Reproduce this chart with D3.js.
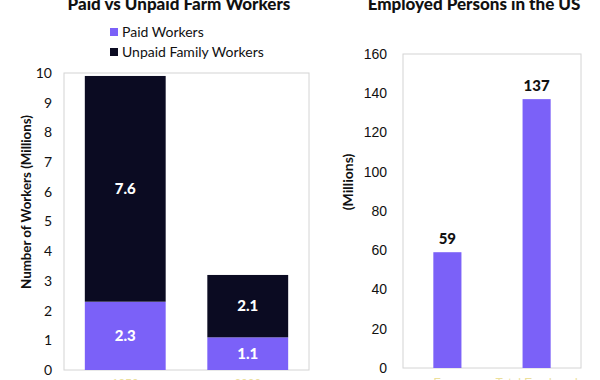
<!DOCTYPE html>
<html><head><meta charset="utf-8">
<script src="https://cdn.jsdelivr.net/npm/d3@7"></script>
<style>
html,body{margin:0;padding:0;background:#fff;}
svg{display:block;font-family:Lato,"Noto Sans",sans-serif;}
</style></head>
<body>
<svg id="c" width="600" height="380"></svg>
<script>
// ---- data ----
const farmCategories = ["1950", "2020"];
const paidWorkers = [2.3, 1.1];
const unpaidFamilyWorkers = [7.6, 2.1];
const farmTicks = [0,1,2,3,4,5,6,7,8,9,10];
const empCategories = ["Farm", "Total Employed"];
const employedValues = [59, 137];
const empTicks = [0,20,40,60,80,100,120,140,160];
const seriesNames = ["Paid Workers", "Unpaid Family Workers"];

const PURPLE = "#7b61f8", NAVY = "#0b0b22", FRAME = "#d4d4d4", TXT = "#111";
const svg = d3.select("#c");

// ---- left chart ----
const L = {x0:64, x1:309, y0:73, y1:370};
const xL = d3.scaleBand().domain(farmCategories).range([L.x0, L.x1]).paddingInner(0.34).paddingOuter(0.17);
const yL = d3.scaleLinear().domain([0,10]).range([L.y1, L.y0]);

svg.append("rect").attr("x",L.x0).attr("y",L.y0).attr("width",L.x1-L.x0).attr("height",L.y1-L.y0)
  .attr("fill","none").attr("stroke",FRAME).attr("stroke-width",1);

const stackData = farmCategories.map((c,i)=>({cat:c, paid:paidWorkers[i], unpaid:unpaidFamilyWorkers[i]}));
const stack = d3.stack().keys(["paid","unpaid"])(stackData);
const colors = [PURPLE, NAVY];
stack.forEach((layer,li)=>{
  const g = svg.append("g");
  g.selectAll("rect").data(layer).join("rect")
    .attr("x",d=>xL(d.data.cat)).attr("width",xL.bandwidth())
    .attr("y",d=>yL(d[1])).attr("height",d=>yL(d[0])-yL(d[1]))
    .attr("fill",colors[li]);
  g.selectAll("text").data(layer).join("text")
    .attr("x",d=>xL(d.data.cat)+xL.bandwidth()/2)
    .attr("y",d=>(yL(d[0])+yL(d[1]))/2+5)
    .attr("text-anchor","middle").attr("fill","#fff").attr("font-weight","900").attr("font-size",15)
    .text(d=>(d[1]-d[0]).toFixed(1));
});

const axL = svg.append("g").attr("transform",`translate(${L.x0},0)`)
  .call(d3.axisLeft(yL).tickValues(farmTicks).tickSize(0).tickPadding(12));
axL.select(".domain").remove();
axL.selectAll("text").attr("font-size",14).attr("fill",TXT).attr("font-family","Lato,sans-serif");

svg.append("text").attr("transform","translate(31,202) rotate(-90)")
  .attr("text-anchor","middle").attr("font-size",13.3).attr("font-weight","bold").attr("fill",TXT)
  .text("Number of Workers (Millions)");

svg.append("text").attr("x",179).attr("y",10).attr("text-anchor","middle")
  .attr("font-size",17).attr("font-weight","900").attr("fill",TXT).text("Paid vs Unpaid Farm Workers");

// legend
const lg = svg.append("g");
seriesNames.forEach((n,i)=>{
  lg.append("rect").attr("x",110).attr("y",28+i*20).attr("width",8).attr("height",8).attr("fill",colors[i]);
  lg.append("text").attr("x",122).attr("y",36.5+i*20).attr("font-size",14).attr("fill",TXT).text(n);
});

const xaxL = svg.append("g").attr("transform",`translate(0,${L.y1})`)
  .call(d3.axisBottom(xL).tickSize(0).tickPadding(9));
xaxL.select(".domain").remove();
xaxL.selectAll("text").attr("font-size",12).attr("fill","#ecdf9c").attr("dy","0.71em");

// ---- right chart ----
const R = {x0:403, x1:581, y0:54, y1:368};
const xR = d3.scaleBand().domain(empCategories).range([R.x0, R.x1]).paddingInner(0.685).paddingOuter(0.34);
const yR = d3.scaleLinear().domain([0,160]).range([R.y1, R.y0]);

svg.append("rect").attr("x",R.x0).attr("y",R.y0).attr("width",R.x1-R.x0).attr("height",R.y1-R.y0)
  .attr("fill","none").attr("stroke",FRAME).attr("stroke-width",1);

svg.append("g").selectAll("rect").data(employedValues).join("rect")
  .attr("x",(d,i)=>xR(empCategories[i])).attr("width",xR.bandwidth())
  .attr("y",d=>yR(d)).attr("height",d=>yR(0)-yR(d)).attr("fill",PURPLE);
svg.append("g").selectAll("text").data(employedValues).join("text")
  .attr("x",(d,i)=>xR(empCategories[i])+xR.bandwidth()/2).attr("y",d=>yR(d)-8)
  .attr("text-anchor","middle").attr("font-size",15).attr("font-weight","900").attr("fill",TXT)
  .text(d=>d);

const axR = svg.append("g").attr("transform",`translate(${R.x0},0)`)
  .call(d3.axisLeft(yR).tickValues(empTicks).tickSize(0).tickPadding(16));
axR.select(".domain").remove();
axR.selectAll("text").attr("font-size",14).attr("fill",TXT);

svg.append("text").attr("transform","translate(353,182) rotate(-90)")
  .attr("text-anchor","middle").attr("font-size",14).attr("font-weight","bold").attr("fill",TXT)
  .text("(Millions)");

svg.append("text").attr("x",474).attr("y",10).attr("text-anchor","middle")
  .attr("font-size",17).attr("font-weight","900").attr("fill",TXT).text("Employed Persons in the US");

const xaxR = svg.append("g").attr("transform",`translate(0,${R.y1})`)
  .call(d3.axisBottom(xR).tickSize(0).tickPadding(10));
xaxR.select(".domain").remove();
xaxR.selectAll("text").attr("font-size",12).attr("fill","#ecdf9c").attr("dy","0.71em");
</script>
</body></html>
